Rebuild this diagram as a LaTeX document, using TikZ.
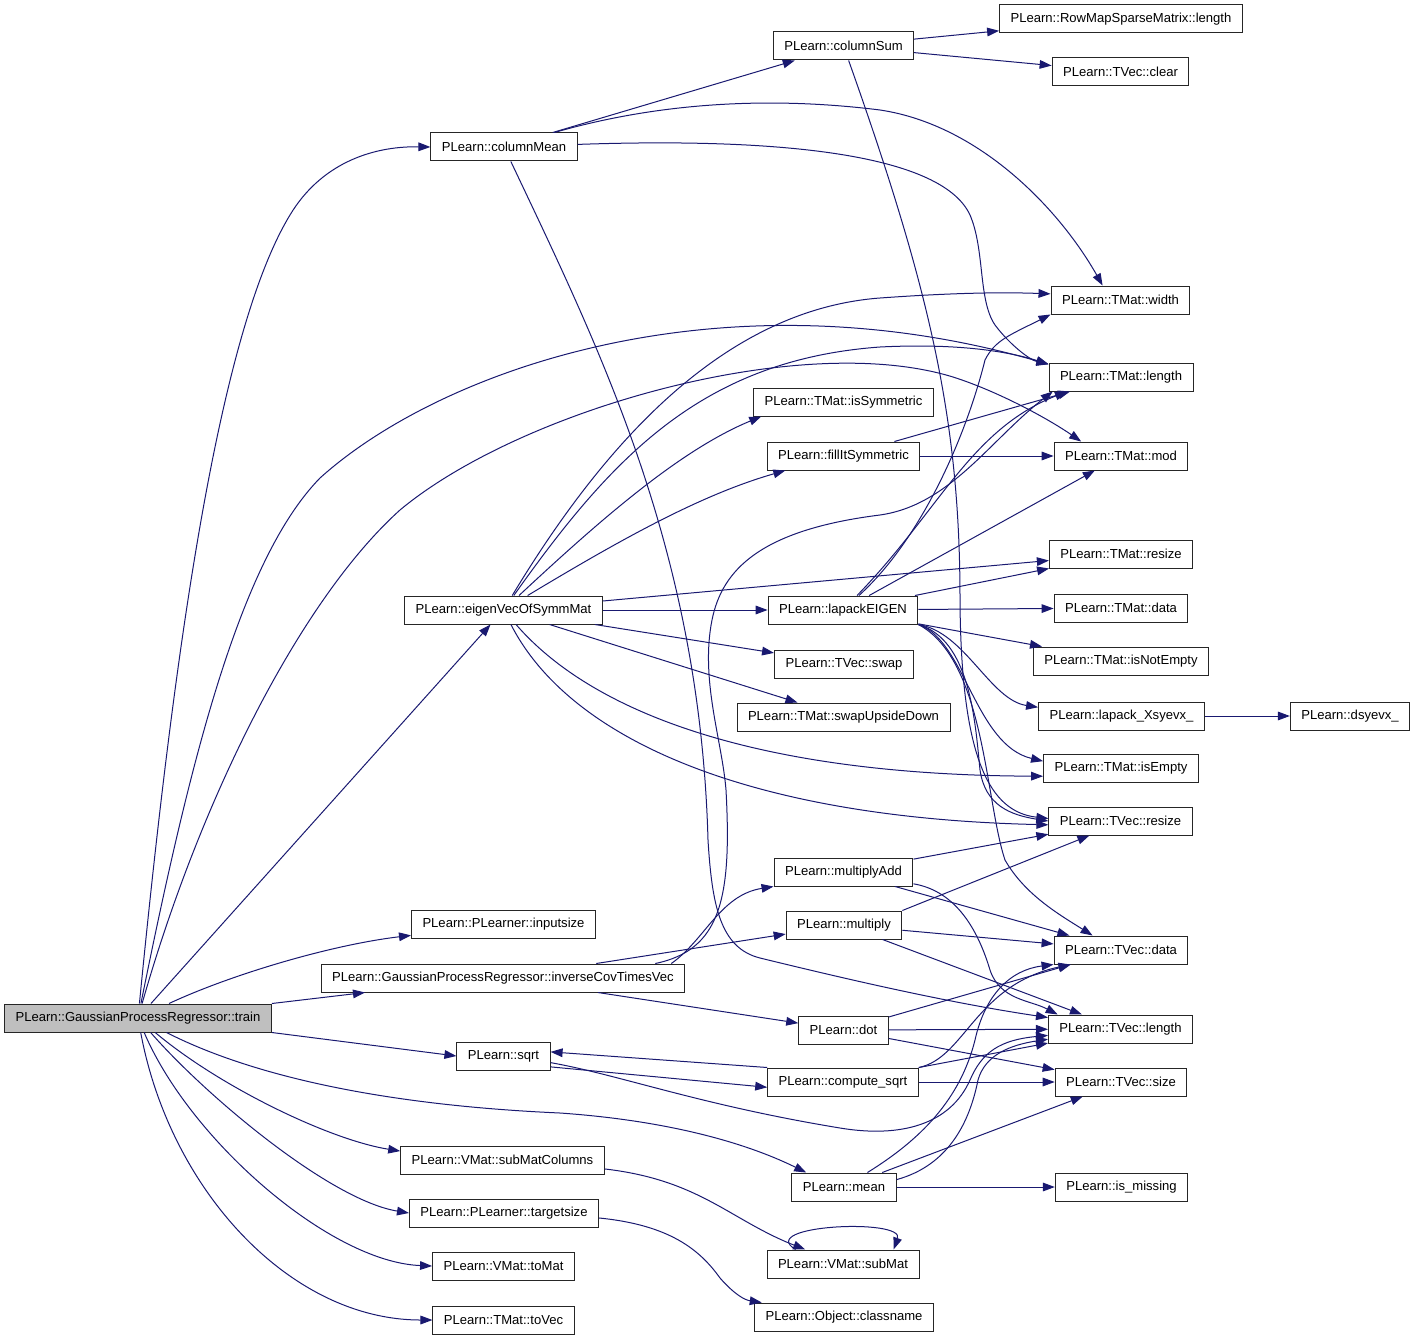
\documentclass[tikz,border=0pt]{standalone}
\usepackage{fontspec}
\setmainfont{Liberation Sans}
\usetikzlibrary{arrows.meta,calc}
\definecolor{callblue}{RGB}{25,25,112}
\tikzset{>={Triangle[length=9pt,width=6.5pt]},
  fn/.style={draw=black!85,line width=0.75pt,rectangle,minimum height=21pt,inner xsep=8.25pt,inner ysep=0pt,font=\fontsize{9.8}{11}\selectfont},
  root/.style={fn,fill=black!25},
  call/.style={->,callblue,line width=0.75pt}}
\begin{document}
\begin{tikzpicture}[x=0.75pt,y=-0.75pt]
    \useasboundingbox (0,0) rectangle (1416,1341);
    \node[root] (train) at (138,1018) {PLearn::GaussianProcessRegressor::train};
    \node[fn] (colMean) at (504,147) {PLearn::columnMean};
    \node[fn] (colSum) at (843.5,46) {PLearn::columnSum};
    \node[fn] (rmLength) at (1121,19) {PLearn::RowMapSparseMatrix::length};
    \node[fn] (tvClear) at (1120.5,72) {PLearn::TVec::clear};
    \node[fn] (tmWidth) at (1120.5,300) {PLearn::TMat::width};
    \node[fn] (tmLength) at (1121,377) {PLearn::TMat::length};
    \node[fn] (tmIsSym) at (843.5,402) {PLearn::TMat::isSymmetric};
    \node[fn] (fillSym) at (843.5,456) {PLearn::fillItSymmetric};
    \node[fn] (tmMod) at (1121,456) {PLearn::TMat::mod};
    \node[fn] (tmResize) at (1121,554) {PLearn::TMat::resize};
    \node[fn] (eigVec) at (503.5,610) {PLearn::eigenVecOfSymmMat};
    \node[fn] (lapEig) at (843,610) {PLearn::lapackEIGEN};
    \node[fn] (tmData) at (1121,608) {PLearn::TMat::data};
    \node[fn] (tmNotEmpty) at (1121,661) {PLearn::TMat::isNotEmpty};
    \node[fn] (tvSwap) at (844,664) {PLearn::TVec::swap};
    \node[fn] (lapXsy) at (1121.5,716) {PLearn::lapack\_Xsyevx\_};
    \node[fn] (dsyevx) at (1350,716) {PLearn::dsyevx\_};
    \node[fn] (tmUpside) at (843.5,717) {PLearn::TMat::swapUpsideDown};
    \node[fn] (tmIsEmpty) at (1121,768) {PLearn::TMat::isEmpty};
    \node[fn] (tvResize) at (1120.5,821) {PLearn::TVec::resize};
    \node[fn] (multAdd) at (843.5,872) {PLearn::multiplyAdd};
    \node[fn] (inSize) at (503.5,924) {PLearn::PLearner::inputsize};
    \node[fn] (mult) at (844,925) {PLearn::multiply};
    \node[fn] (tvData) at (1121,950) {PLearn::TVec::data};
    \node[fn] (invCov) at (503,978) {PLearn::GaussianProcessRegressor::inverseCovTimesVec};
    \node[fn] (dotP) at (843.5,1030) {PLearn::dot};
    \node[fn] (tvLength) at (1120.5,1029) {PLearn::TVec::length};
    \node[fn] (sqrtN) at (503.5,1056) {PLearn::sqrt};
    \node[fn] (cSqrt) at (843,1082) {PLearn::compute\_sqrt};
    \node[fn] (tvSize) at (1121,1082) {PLearn::TVec::size};
    \node[fn] (subCols) at (502.5,1160) {PLearn::VMat::subMatColumns};
    \node[fn] (meanN) at (844,1187) {PLearn::mean};
    \node[fn] (isMiss) at (1121.5,1187) {PLearn::is\_missing};
    \node[fn] (tgtSize) at (504,1213) {PLearn::PLearner::targetsize};
    \node[fn] (subMat) at (843,1264) {PLearn::VMat::subMat};
    \node[fn] (toMat) at (503.5,1266) {PLearn::VMat::toMat};
    \node[fn] (toVec) at (503.5,1320) {PLearn::TMat::toVec};
    \node[fn] (clsName) at (844,1317) {PLearn::Object::classname};

    \draw[call] (train) .. controls (175,640) and (220,330) .. (290,215) .. controls (320,165) and (370,146) .. (colMean.west);
    \draw[call] (train) .. controls (190,760) and (240,560) .. (320,478) .. controls (440,370) and (720,270) .. (tmLength.170);
    \draw[call] (train) .. controls (200,800) and (300,600) .. (400,510) .. controls (520,410) and (800,330) .. (953,377) .. controls (1000,392) and (1050,420) .. (tmMod.160);
    \draw[call] (train) -- (eigVec);
    \draw[call] (train) .. controls (230,975) and (330,945) .. (inSize.187);
    \draw[call] (train.north east) -- (invCov.186);
    \draw[call] (train.south east) -- (sqrtN.west);
    \draw[call] (train) .. controls (250,1075) and (380,1105) .. (560,1113) .. controls (660,1120) and (740,1140) .. (meanN.159);
    \draw[call] (train) .. controls (220,1087) and (330,1140) .. (subCols.175);
    \draw[call] (train) .. controls (206,1096) and (330,1200) .. (tgtSize.west);
    \draw[call] (train) .. controls (190,1140) and (330,1262) .. (toMat.west);
    \draw[call] (train) .. controls (170,1190) and (290,1320) .. (toVec.west);

    \draw[call] (colMean) -- (colSum);
    \draw[call] (colMean) .. controls (650,105) and (760,95) .. (880,110) .. controls (980,125) and (1060,210) .. (tmWidth.141);
    \draw[call] (colMean) .. controls (760,138) and (940,150) .. (970,215) .. controls (985,250) and (978,300) .. (995,325) .. controls (1010,345) and (1030,360) .. (tmLength.170);
    \draw[call] (colMean) .. controls (600,350) and (700,550) .. (708,840) .. controls (712,905) and (720,948) .. (760,958) .. controls (850,980) and (950,1003) .. (tvLength.171);
    \draw[call] (colSum) -- (rmLength);
    \draw[call] (colSum) -- (tvClear);
    \draw[call] (colSum) .. controls (930,290) and (960,420) .. (960,600) .. controls (961,760) and (990,812) .. (tvResize.178);

    \draw[call] (eigVec) .. controls (600,450) and (720,310) .. (880,298) .. controls (950,293) and (1000,292) .. (tmWidth.175);
    \draw[call] (eigVec) .. controls (610,460) and (700,360) .. (880,347) .. controls (960,343) and (1010,352) .. (tmLength.170);
    \draw[call] (eigVec) .. controls (600,520) and (680,450) .. (tmIsSym.190);
    \draw[call] (eigVec) .. controls (620,540) and (700,495) .. (fillSym.194);
    \draw[call] (eigVec) -- (tmResize);
    \draw[call] (eigVec) -- (lapEig);
    \draw[call] (eigVec) -- (tvSwap);
    \draw[call] (eigVec) -- (tmUpside);
    \draw[call] (eigVec) .. controls (590,710) and (750,775) .. (tmIsEmpty.186);
    \draw[call] (eigVec) .. controls (570,740) and (750,818) .. (tvResize.183);

    \draw[call] (lapEig) .. controls (920,540) and (965,440) .. (985,360) .. controls (995,340) and (1010,335) .. (tmWidth.south west);
    \draw[call] (lapEig) .. controls (940,510) and (970,430) .. (tmLength.195);
    \draw[call] (lapEig) -- (tmMod);
    \draw[call] (lapEig) -- (tmResize);
    \draw[call] (lapEig) -- (tmData);
    \draw[call] (lapEig) -- (tmNotEmpty);
    \draw[call] (lapEig.south east) .. controls (965,632) and (990,700) .. (lapXsy.174);
    \draw[call] (lapEig.south east) .. controls (965,640) and (975,745) .. (tmIsEmpty.175);
    \draw[call] (lapEig.south east) .. controls (970,640) and (975,720) .. (980,770) .. controls (985,805) and (1010,815) .. (tvResize.west);
    \draw[call] (lapEig.south east) .. controls (985,660) and (985,800) .. (1005,860) .. controls (1025,895) and (1060,915) .. (tvData.153);
    \draw[call] (lapXsy) -- (dsyevx);
    \draw[call] (fillSym) -- (tmLength);
    \draw[call] (fillSym) -- (tmMod);

    \draw[call] ($(invCov.north east)+(-14,0)$) .. controls (705,940) and (720,895) .. (multAdd.south west);
    \draw[call] ($(invCov.north east)+(-30,0)$) .. controls (720,950) and (732,900) .. (726,790) .. controls (722,740) and (700,680) .. (712,620) .. controls (722,570) and (760,530) .. (880,515) .. controls (950,505) and (990,440) .. (tmLength.192);
    \draw[call] (invCov) -- (mult);
    \draw[call] (invCov) -- (dotP);

    \draw[call] (multAdd) -- (tvResize);
    \draw[call] (multAdd) -- (tvData);
    \draw[call] (multAdd) .. controls (950,890) and (975,920) .. (990,970) .. controls (1000,1000) and (1030,1000) .. (tvLength.167);
    \draw[call] (mult.north east) -- (tvResize.205);
    \draw[call] (mult) -- (tvData);
    \draw[call] (mult) -- (tvLength);
    \draw[call] (dotP) -- (tvData);
    \draw[call] (dotP) -- (tvLength);
    \draw[call] (dotP) -- (tvSize);

    \draw[call] (sqrtN.-13) -- (cSqrt.184);
    \draw[call] (sqrtN.-8) .. controls (620,1075) and (700,1105) .. (840,1128) .. controls (900,1138) and (950,1125) .. (970,1080) .. controls (982,1052) and (1000,1040) .. (tvLength.185);
    \draw[call] (cSqrt.north west) -- (sqrtN.5);
    \draw[call] (cSqrt.north east) .. controls (965,1058) and (975,985) .. (tvData.196);
    \draw[call] (cSqrt.north east) -- (tvLength.191);
    \draw[call] (cSqrt) -- (tvSize);

    \draw[call] (meanN) .. controls (920,1140) and (960,1100) .. (975,1040) .. controls (985,995) and (1010,970) .. (tvData.south west);
    \draw[call] (meanN.8) .. controls (950,1165) and (970,1120) .. (978,1080) .. controls (985,1055) and (1010,1045) .. (tvLength.188);
    \draw[call] (meanN) -- (tvSize);
    \draw[call] (meanN) -- (isMiss);

    \draw[call] (subCols.-5) .. controls (700,1180) and (730,1220) .. (subMat.159);
    \draw[call] (subMat.163) .. controls (755,1225) and (905,1218) .. (subMat.16);
    \draw[call] (tgtSize.-3) .. controls (670,1225) and (700,1250) .. (720,1278) .. controls (735,1295) and (745,1300) .. (clsName.170);
\end{tikzpicture}
\end{document}
